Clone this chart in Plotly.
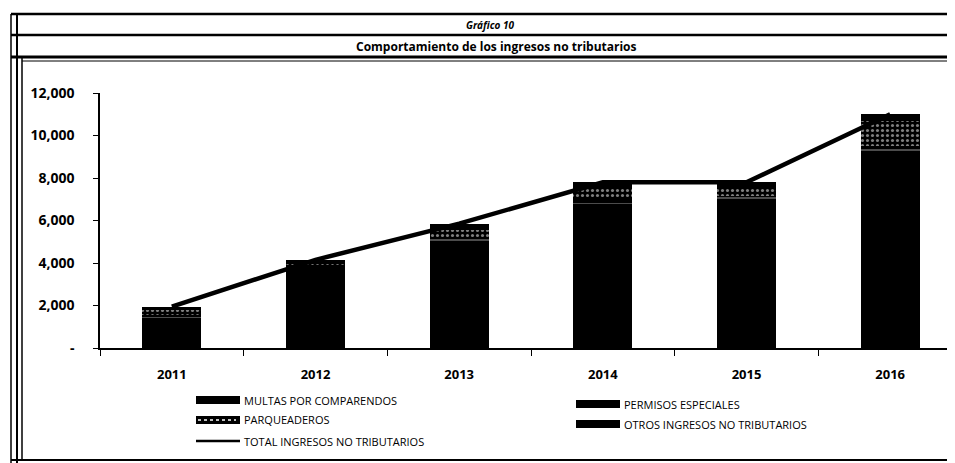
import plotly.graph_objects as go

# ---------------- data ----------------
years = ["2011", "2012", "2013", "2014", "2015", "2016"]
multas = [1400, 3800, 5000, 6800, 7000, 9200]
permisos = [150, 100, 200, 200, 150, 300]
parqueaderos = [250, 150, 350, 500, 400, 1200]
otros = [150, 100, 300, 300, 250, 300]
total = [1950, 4150, 5850, 7800, 7800, 11000]

y_tickvals = [0, 2000, 4000, 6000, 8000, 10000, 12000]
y_ticktext = ["-", "2,000", "4,000", "6,000", "8,000", "10,000", "12,000"]

title1 = "Gráfico 10"
title2 = "Comportamiento de los ingresos no tributarios"
legend_names = ["MULTAS POR COMPARENDOS", "PERMISOS ESPECIALES", "PARQUEADEROS",
                "OTROS INGRESOS NO TRIBUTARIOS", "TOTAL INGRESOS NO TRIBUTARIOS"]

# ---------------- layout geometry (pixels) ----------------
W, H = 955, 463
L, R, T, B = 92, 1, 85, 123
PW, PH = W - L - R, H - T - B


def px(x):
    return (x - L) / PW


def py(y):
    return (H - B - y) / PH


FONT = "Open Sans"

fig = go.Figure()

fig.add_trace(go.Bar(x=years, y=multas, name=legend_names[0], marker=dict(color="black", line=dict(width=0))))
fig.add_trace(go.Bar(x=years, y=permisos, name=legend_names[1],
                     marker=dict(color="black", line=dict(width=0),
                                 pattern=dict(shape="-", fgcolor="white", bgcolor="black", size=6, solidity=0.2))))
fig.add_trace(go.Bar(x=years, y=parqueaderos, name=legend_names[2],
                     marker=dict(color="black", line=dict(width=0),
                                 pattern=dict(shape=".", fgcolor="white", bgcolor="black", size=5, solidity=0.3))))
fig.add_trace(go.Bar(x=years, y=otros, name=legend_names[3], marker=dict(color="black", line=dict(width=0))))
fig.add_trace(go.Scatter(x=years, y=total, name=legend_names[4], mode="lines",
                         line=dict(color="black", width=4.5)))

shapes = []
annotations = []


def hline(y, x0, x1, w):
    shapes.append(dict(type="line", xref="paper", yref="paper", x0=px(x0), x1=px(x1),
                       y0=py(y), y1=py(y), line=dict(color="black", width=w)))


def vline(x, y0, y1, w):
    shapes.append(dict(type="line", xref="paper", yref="paper", x0=px(x), x1=px(x),
                       y0=py(y0), y1=py(y1), line=dict(color="black", width=w)))


# outer frame and header bands
hline(6, 3, 955, 2.5)
hline(27, 3, 955, 2.5)
hline(49, 3, 955, 3)
hline(53, 14, 955, 1)
hline(452, 3, 955, 2)
hline(456, 3, 955, 1)
vline(3, 6, 456, 1.5)
vline(9, 6, 456, 2)
vline(14, 49, 452, 1.5)

annotations.append(dict(text="<b><i>" + title1 + "</i></b>", xref="paper", yref="paper",
                        x=px(482), y=py(17), xanchor="center", yanchor="middle", showarrow=False,
                        font=dict(family=FONT, size=10, color="black")))
annotations.append(dict(text="<b>" + title2 + "</b>", xref="paper", yref="paper",
                        x=px(488), y=py(39), xanchor="center", yanchor="middle", showarrow=False,
                        font=dict(family=FONT, size=12, color="black")))

# manual legend
leg_items = [
    (188, 392, legend_names[0], "bar"),
    (568, 396, legend_names[1], "bar"),
    (188, 412, legend_names[2], "speck"),
    (568, 416, legend_names[3], "bar"),
    (188, 433, legend_names[4], "line"),
]
for x0, yc, name, kind in leg_items:
    if kind == "line":
        hline(yc, x0, x0 + 44, 2.5)
    else:
        shapes.append(dict(type="rect", xref="paper", yref="paper", x0=px(x0), x1=px(x0 + 44),
                           y0=py(yc + 4), y1=py(yc - 4), fillcolor="black", line=dict(width=0)))
        if kind == "speck":
            shapes.append(dict(type="line", xref="paper", yref="paper", x0=px(x0 + 2), x1=px(x0 + 40),
                               y0=py(yc), y1=py(yc), line=dict(color="white", width=1.5, dash="dot")))
    annotations.append(dict(text=name, xref="paper", yref="paper", x=px(x0 + 46), y=py(yc),
                            xanchor="left", yanchor="middle", showarrow=False,
                            font=dict(family=FONT, size=11, color="black")))

fig.update_layout(
    width=W, height=H,
    margin=dict(l=L, r=R, t=T, b=B),
    paper_bgcolor="white", plot_bgcolor="white",
    barmode="stack", bargap=0.59,
    showlegend=False,
    shapes=shapes, annotations=annotations,
    font=dict(family=FONT, color="black"),
)
fig.update_xaxes(showline=True, linecolor="black", linewidth=1.5, showgrid=False, zeroline=False,
                 ticks="outside", tickson="boundaries", ticklen=6, tickcolor="black",
                 ticklabelstandoff=14,
                 tickfont=dict(family=FONT, size=13, color="black", weight="bold"))
fig.update_yaxes(range=[0, 12000], showline=True, linecolor="black", linewidth=1.5, showgrid=False,
                 zeroline=False, ticks="outside", ticklen=5, tickcolor="black",
                 tickvals=y_tickvals, ticktext=y_ticktext, ticklabelstandoff=16,
                 tickfont=dict(family=FONT, size=14, color="black", weight="bold"))

fig.write_html("out.html")
